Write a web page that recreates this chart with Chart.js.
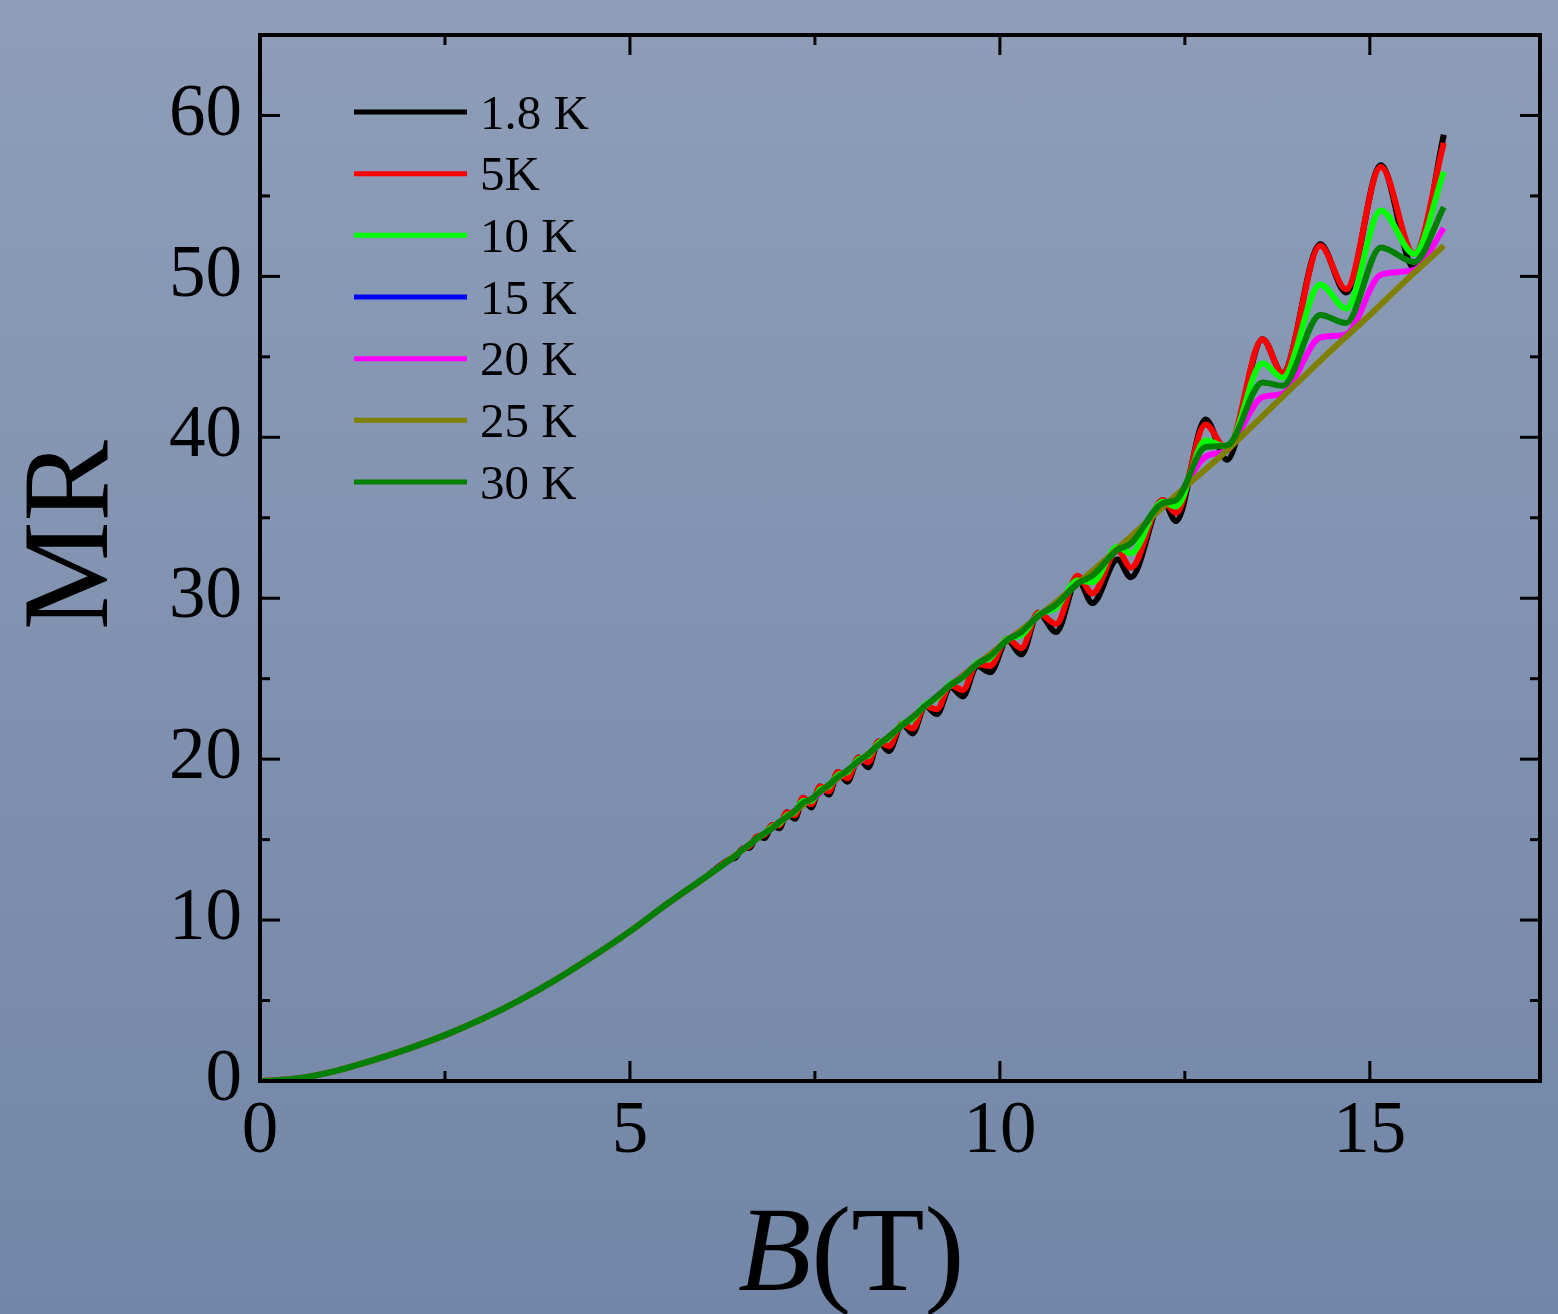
<!DOCTYPE html>
<html>
<head>
<meta charset="utf-8">
<title>MR vs B</title>
<script src="https://cdn.jsdelivr.net/npm/chart.js@4.4.0/dist/chart.umd.min.js"></script>
<style>
  html, body { margin: 0; padding: 0; }
  body { width: 1558px; height: 1314px; background: linear-gradient(#8e9eb9, #7286a7); overflow: hidden; }
  #wrap { width: 1558px; height: 1314px; position: relative; }
</style>
</head>
<body>
<div id="wrap"><canvas id="myChart"></canvas></div>
<script>
// field values (T) shared by the oscillating curves
const bField = [0, 0.5, 1, 1.5, 2, 2.5, 3, 3.5, 4, 4.5, 5, 5.5, 6,
    6.34, 6.43, 6.53, 6.62, 6.72, 6.82, 6.92, 7.02, 7.12, 7.23, 7.34, 7.45, 7.57, 7.69, 7.81, 7.94,
    8.09, 8.22, 8.36, 8.5, 8.68, 8.82, 8.99, 9.15, 9.33, 9.5, 9.69, 9.87, 10.1, 10.29, 10.52, 10.76,
    11.05, 11.25, 11.59, 11.77, 12.2, 12.38, 12.78, 13.07, 13.55, 13.82, 14.33, 14.68, 15.15, 15.6, 16];

const mr1_8K = [0, 0.15, 0.6, 1.25, 2.0, 2.85, 3.85, 5.0, 6.3, 7.75, 9.3, 11.0, 12.6,
    13.75, 13.9, 14.45, 14.5, 15.2, 15.1, 15.9, 15.7, 16.7, 16.3, 17.6, 17.0, 18.3, 17.8, 19.2, 18.6,
    20.1, 19.5, 21.1, 20.5, 22.2, 21.6, 23.3, 22.8, 24.5, 23.9, 25.8, 25.4, 27.4, 26.5, 29.1, 27.9,
    31.2, 29.7, 32.4, 31.3, 36.1, 34.8, 41.1, 38.6, 46.1, 44.0, 52.0, 49.0, 56.9, 50.5, 58.8];

const mr5K = [0, 0.15, 0.6, 1.25, 2.0, 2.85, 3.85, 5.0, 6.3, 7.75, 9.3, 11.0, 12.6,
    13.75, 14.0, 14.45, 14.6, 15.2, 15.3, 15.9, 15.9, 16.7, 16.5, 17.6, 17.2, 18.3, 18.0, 19.2, 18.8,
    20.1, 19.8, 21.1, 20.8, 22.2, 21.9, 23.3, 23.1, 24.6, 24.3, 25.9, 25.8, 27.5, 26.9, 29.1, 28.4,
    31.4, 30.3, 33.0, 31.9, 36.1, 35.3, 40.8, 39.2, 46.1, 44.0, 51.9, 49.2, 56.8, 51.4, 58.3];

const mr10K = [0, 0.15, 0.6, 1.25, 2.0, 2.85, 3.85, 5.0, 6.3, 7.75, 9.3, 11.0, 12.6,
    13.7, 14.0, 14.4, 14.7, 15.1, 15.4, 15.8, 16.0, 16.5, 16.7, 17.4, 17.4, 18.1, 18.3, 19.0, 19.2,
    20.0, 20.2, 21.0, 21.3, 22.2, 22.5, 23.4, 23.8, 24.7, 25.1, 26.0, 26.3, 27.5, 27.7, 29.0, 29.4,
    31.1, 31.0, 33.2, 32.8, 36.0, 35.7, 39.8, 39.4, 44.6, 43.7, 49.5, 48.0, 54.1, 51.4, 56.5];

// the 15 K curve does not show anywhere in the figure
const mr15K = [];

const mr20K = [0, 0.15, 0.6, 1.25, 2.0, 2.85, 3.85, 5.0, 6.3, 7.75, 9.3, 11.0, 12.6,
    13.7, 14.0, 14.4, 14.7, 15.1, 15.4, 15.7, 16.1, 16.4, 16.8, 17.2, 17.5, 17.9, 18.4, 18.8, 19.3,
    19.8, 20.3, 20.9, 21.4, 22.1, 22.6, 23.3, 23.9, 24.6, 25.2, 25.9, 26.5, 27.4, 28.0, 28.9, 29.7,
    30.9, 31.6, 33.0, 33.6, 35.8, 36.2, 38.8, 39.2, 42.5, 42.7, 46.2, 46.4, 50.1, 50.4, 53.0];

const mr30K = [0, 0.15, 0.6, 1.25, 2.0, 2.85, 3.85, 5.0, 6.3, 7.75, 9.3, 11.0, 12.6,
    13.7, 14.0, 14.4, 14.7, 15.1, 15.4, 15.7, 16.1, 16.4, 16.8, 17.3, 17.5, 18.0, 18.4, 18.9, 19.3,
    19.9, 20.3, 20.9, 21.4, 22.1, 22.6, 23.3, 23.9, 24.6, 25.1, 25.9, 26.4, 27.4, 27.9, 28.9, 29.6,
    30.9, 31.4, 33.0, 33.4, 35.9, 36.1, 39.4, 39.5, 43.4, 43.2, 47.6, 47.1, 51.8, 50.9, 54.3];

// 25 K has no visible oscillation
const bSmooth = [0, 0.5, 1, 1.5, 2, 2.5, 3, 3.5, 4, 4.5, 5, 5.5, 6, 6.5, 7, 7.5, 8,
    8.5, 9, 9.5, 10, 10.5, 11, 11.5, 12, 12.5, 13, 13.5, 14, 14.5, 15, 15.5, 16];
const mr25K = [0, 0.15, 0.6, 1.25, 2.0, 2.85, 3.85, 5.0, 6.3, 7.75, 9.3, 11.0, 12.6, 14.3, 16.0, 17.7, 19.5,
    21.4, 23.3, 25.2, 27.0, 28.8, 30.7, 32.7, 34.8, 36.9, 38.9, 41.1, 43.3, 45.5, 47.6, 49.8, 51.9];

const seriesLabels = ['1.8 K', '5K', '10 K', '15 K', '20 K', '25 K', '30 K'];
const seriesColors = ['#000000', '#ff0000', '#00ff00', '#0000ff', '#ff00ff', '#808000', '#008000'];

const xMajor = [0, 5, 10, 15];
const xMinor = [2.5, 7.5, 12.5];
const yMajor = [0, 10, 20, 30, 40, 50, 60];
const yMinor = [5, 15, 25, 35, 45, 55];

const serif = '"Liberation Serif", "Times New Roman", serif';

function toPoints(xs, ys) {
    return ys.map((v, i) => ({ x: xs[i], y: v }));
}

const seriesData = [
    toPoints(bField, mr1_8K),
    toPoints(bField, mr5K),
    toPoints(bField, mr10K),
    toPoints(bField, mr15K),
    toPoints(bField, mr20K),
    toPoints(bSmooth, mr25K),
    toPoints(bField, mr30K)
];

// later temperatures are painted on top (lower order = drawn last)
const datasets = seriesData.map((pts, i) => ({
    label: seriesLabels[i],
    data: pts,
    borderColor: seriesColors[i],
    backgroundColor: seriesColors[i],
    borderWidth: 6,
    pointRadius: 0,
    fill: false,
    cubicInterpolationMode: 'monotone',
    order: seriesLabels.length - 1 - i
}));

// box round the plot with inward ticks on all four sides
const framePlugin = {
    id: 'frame',
    afterDatasetsDraw(chart) {
        const { ctx, chartArea: a, scales: { x, y } } = chart;
        ctx.save();
        ctx.strokeStyle = '#000';
        ctx.lineCap = 'butt';
        function seg(x1, y1, x2, y2) {
            ctx.beginPath(); ctx.moveTo(x1, y1); ctx.lineTo(x2, y2); ctx.stroke();
        }
        ctx.lineWidth = 3;
        [[xMajor, 20], [xMinor, 10]].forEach(([list, len]) => {
            list.forEach(v => {
                const px = x.getPixelForValue(v);
                seg(px, a.bottom, px, a.bottom - len);
                seg(px, a.top, px, a.top + len);
            });
        });
        [[yMajor, 20], [yMinor, 10]].forEach(([list, len]) => {
            list.forEach(v => {
                const py = y.getPixelForValue(v);
                seg(a.left, py, a.left + len, py);
                seg(a.right, py, a.right - len, py);
            });
        });
        ctx.lineWidth = 4;
        ctx.strokeRect(a.left, a.top, a.right - a.left, a.bottom - a.top);
        ctx.restore();
    },
    afterDraw(chart) {
        const { ctx, chartArea: a } = chart;
        ctx.save();
        // legend
        ctx.font = '49px ' + serif;
        ctx.fillStyle = '#000';
        ctx.textAlign = 'left';
        ctx.textBaseline = 'alphabetic';
        seriesLabels.forEach((lab, i) => {
            const ly = a.top + 77 + i * 61.67;
            ctx.strokeStyle = seriesColors[i];
            ctx.lineWidth = 5;
            ctx.beginPath();
            ctx.moveTo(a.left + 94, ly);
            ctx.lineTo(a.left + 207, ly);
            ctx.stroke();
            ctx.fillText(lab, a.left + 220, ly + 16.5);
        });
        // y title
        ctx.save();
        ctx.translate(75, 535);
        ctx.rotate(-Math.PI / 2);
        ctx.font = '122px ' + serif;
        ctx.textAlign = 'center';
        ctx.textBaseline = 'middle';
        ctx.fillText('MR', 0, 0);
        ctx.restore();
        // x title: italic B then (T)
        ctx.textAlign = 'left';
        ctx.font = 'italic 120px ' + serif;
        const bx = 738;
        ctx.fillText('B', bx, 1290);
        const bw = ctx.measureText('B').width;
        ctx.font = '120px ' + serif;
        ctx.fillText('(T)', bx + bw, 1290);
        ctx.restore();
    }
};

const ctx = document.getElementById('myChart').getContext('2d');
const myChart = new Chart(ctx, {
    type: 'line',
    data: { datasets: datasets },
    options: {
        responsive: true,
        maintainAspectRatio: false,
        animation: false,
        layout: {
            padding: { top: 35, right: 18, left: 0, bottom: 0 }
        },
        plugins: {
            legend: { display: false },
            tooltip: { enabled: false }
        },
        scales: {
            x: {
                type: 'linear',
                min: 0,
                max: 17.3,
                afterFit(scale) {
                    scale.height = 233;
                    scale.paddingLeft = 0;
                    scale.paddingRight = 0;
                },
                grid: { display: false, drawTicks: false },
                border: { display: false },
                ticks: {
                    stepSize: 5,
                    includeBounds: false,
                    autoSkip: false,
                    maxRotation: 0,
                    padding: 8,
                    color: '#000',
                    font: { family: serif, size: 73 }
                }
            },
            y: {
                type: 'linear',
                min: 0,
                max: 65,
                afterFit(scale) {
                    scale.width = 260;
                    scale.paddingTop = 0;
                    scale.paddingBottom = 0;
                },
                grid: { display: false, drawTicks: false },
                border: { display: false },
                ticks: {
                    stepSize: 10,
                    includeBounds: false,
                    autoSkip: false,
                    padding: 18,
                    color: '#000',
                    font: { family: serif, size: 73 }
                }
            }
        }
    },
    plugins: [framePlugin]
});
</script>
</body>
</html>
